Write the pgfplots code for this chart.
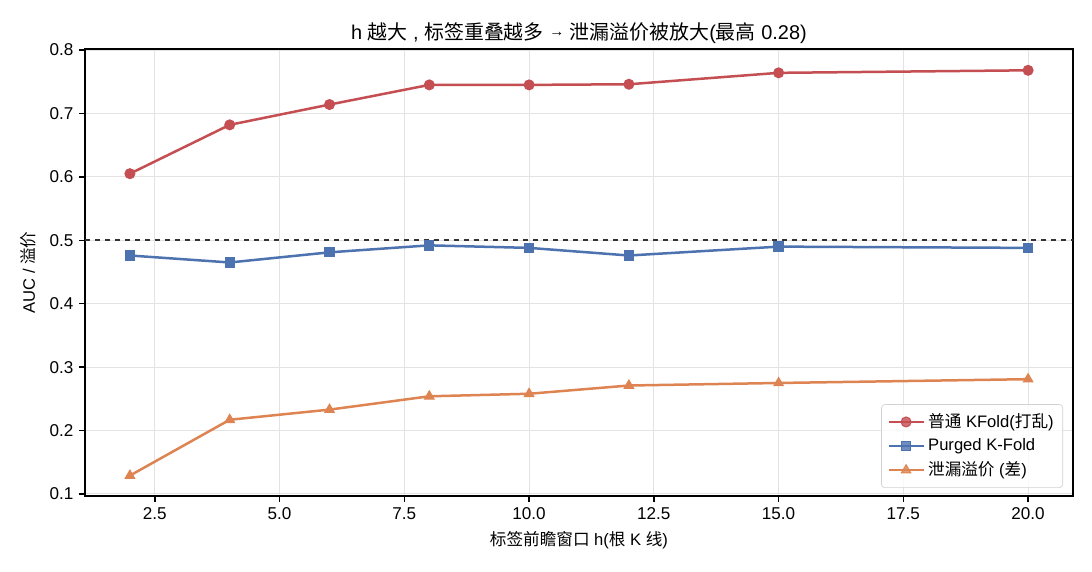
\documentclass[border=0pt]{standalone}
\usepackage{fontspec}
\setmainfont{Liberation Sans}
\newfontfamily\cjk{Noto Sans CJK SC}
\usepackage{pgfplots}
\pgfplotsset{compat=1.18}
\definecolor{cred}{HTML}{C44E52}
\definecolor{cblue}{HTML}{4C72B0}
\definecolor{corange}{HTML}{DD8452}
\begin{document}
\begin{tikzpicture}
\useasboundingbox (-51bp,-45.6bp) rectangle (604.2bp,297.6bp);
\begin{axis}[
  at={(0,0)}, anchor=south west,
  scale only axis, width=592.8bp, height=268.2bp,
  xmin=1.1, xmax=20.9, ymin=0.0968, ymax=0.8016,
  xtick={2.5,5,7.5,10,12.5,15,17.5,20},
  ytick={0.1,0.2,0.3,0.4,0.5,0.6,0.7,0.8},
  xticklabel style={/pgf/number format/.cd, fixed, fixed zerofill, precision=1},
  yticklabel style={/pgf/number format/.cd, fixed, fixed zerofill, precision=1},
  /pgf/number format/assume math mode=true,
  ticklabel style={font=\fontsize{10.3}{12}\selectfont},
  tick align=outside, tick pos=left,
  major tick length=3.5bp,
  every tick/.style={black, line width=0.8bp},
  axis line style={line width=0.8bp},
  grid=major, grid style={gray!22, line width=0.6bp},
  title={\fontsize{12}{14}\selectfont h {\cjk 越大} , {\cjk 标签重叠越多} \raisebox{1.6bp}{\fontsize{9}{12}\selectfont→} {\cjk 泄漏溢价被放大}({\cjk 最高} 0.28)},
  title style={yshift=-6bp},
  xlabel={\fontsize{10}{12}\selectfont{\cjk 标签前瞻窗口} h({\cjk 根} K {\cjk 线})},
  ylabel={\fontsize{10}{12}\selectfont AUC / {\cjk 溢价}},
  ylabel style={yshift=1bp},
  legend cell align=left,
  legend image code/.code={\draw[line width=1.5bp, mark repeat=2, mark phase=2, mark options={line width=0.6bp}] plot coordinates {(0bp,0bp) (10.5bp,0bp) (21bp,0bp)};},
  legend style={at={(0.99,0.018)}, anchor=south east, font=\fontsize{10}{12}\selectfont,
    draw=gray!35, rounded corners=2bp, fill=white, fill opacity=0.8, text opacity=1,
    row sep=1.2bp, inner sep=3.5bp},
]
\addplot[cred, line width=1.5bp, mark=*, mark size=3bp, mark options={line width=0.6bp}] coordinates {
(2,0.605) (4,0.682) (6,0.714) (8,0.745) (10,0.745) (12,0.746) (15,0.764) (20,0.768)};
\addlegendentry{{\cjk 普通} KFold({\cjk 打乱})}
\addplot[cblue, line width=1.5bp, mark=square*, mark size=2.8bp, mark options={line width=0.6bp}] coordinates {
(2,0.476) (4,0.465) (6,0.481) (8,0.492) (10,0.488) (12,0.476) (15,0.490) (20,0.488)};
\addlegendentry{Purged K-Fold}
\addplot[corange, line width=1.5bp, mark=triangle*, mark size=3.3bp, mark options={line width=0.6bp}] coordinates {
(2,0.129) (4,0.217) (6,0.233) (8,0.254) (10,0.258) (12,0.271) (15,0.275) (20,0.281)};
\addlegendentry{{\cjk 泄漏溢价} ({\cjk 差})}
\addplot[black!80, dashed, line width=1bp, forget plot] coordinates {(1.1,0.5) (20.9,0.5)};
\end{axis}
\end{tikzpicture}
\end{document}
